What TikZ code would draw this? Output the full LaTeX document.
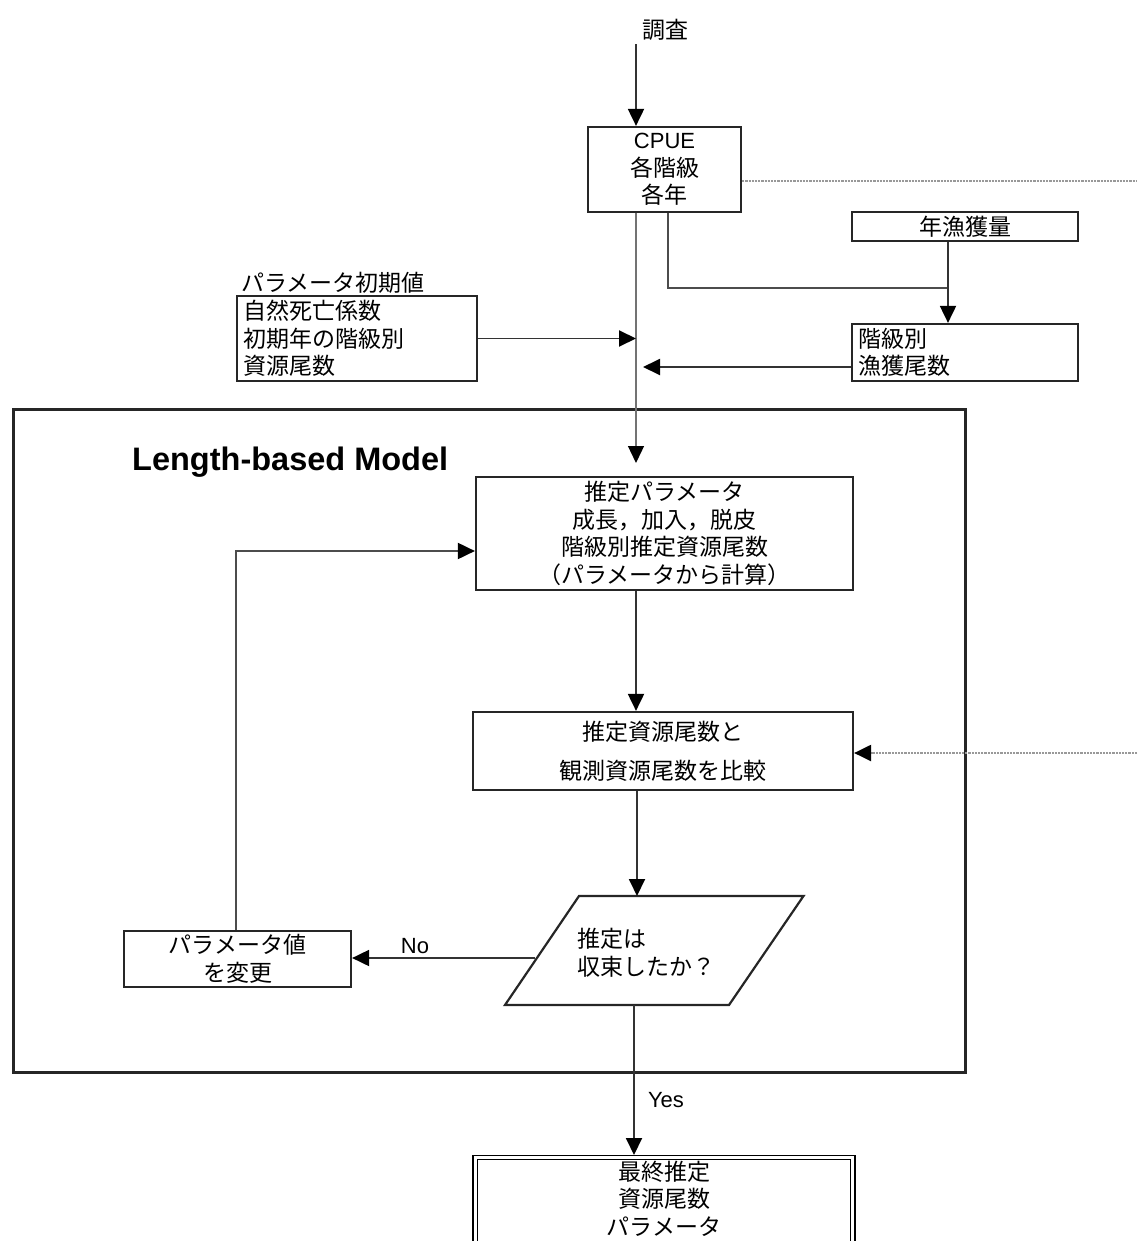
\documentclass[tikz,border=0pt]{standalone}
\usepackage{fontspec}
\setmainfont{Liberation Sans}
\newfontfamily\jp{Noto Sans CJK JP}
\usetikzlibrary{arrows.meta}
\newcommand\latf{\rmfamily\fontsize{22}{27.5}\selectfont}
\begin{document}
\begin{tikzpicture}[x=1pt,y=-1pt,
  jpf/.style={font=\jp\fontsize{23}{27.5}\selectfont},
  box/.style={draw=black!85, line width=2.2pt, inner sep=0pt, align=center, jpf},
  tip/.style={-{Triangle[length=17pt,width=16pt,color=black]}},
  arr/.style={line width=1.9pt, draw=black!80, tip},
  conn/.style={line width=1.9pt, draw=black!70},
  spine/.style={line width=1.3pt, draw=black!55, tip},
  dotl/.style={line width=2.2pt, draw=black!40, densely dotted},
  lbl/.style={font=\latf, inner sep=0pt}
]
\useasboundingbox (0,0) rectangle (1137,1241);
\clip (0,0) rectangle (1137,1241);

% frame of the model
\node[draw=black!85, line width=3pt, minimum width=952pt, minimum height=663pt, inner sep=0pt] (model) at (489,740.5) {};
\node[font=\bfseries\fontsize{32.5}{36}\selectfont, anchor=base west, inner sep=0pt] (mtitle) at (132,470) {Length-based Model};

% nodes
\node[jpf] (survey) at (665,30) {調査};
\node[box, minimum width=153pt, minimum height=85pt] (cpue) at (664.5,169.5) {{\latf CPUE}\\各階級\\各年};
\node[box, minimum width=226pt, minimum height=29pt] (catch) at (965,226.5) {年漁獲量};
\node[box, align=left, text width=214pt, inner xsep=6pt, minimum height=57pt] (cls) at (965,352.5) {階級別\\漁獲尾数};
\node[box, align=left, text width=228pt, inner xsep=6pt, minimum height=85pt] (init) at (357,338.5) {自然死亡係数\\初期年の階級別\\資源尾数};
\node[jpf, anchor=west, inner sep=0pt] (initlbl) at (241,283) {パラメータ初期値};

\node[box, minimum width=377pt, minimum height=113pt] (est) at (664.5,533.5) {推定パラメータ\\成長，加入，脱皮\\階級別推定資源尾数\\（パラメータから計算）};
\node[box, minimum width=380pt, minimum height=78pt, font=\jp\fontsize{23}{39}\selectfont] (cmp) at (663,751) {推定資源尾数と\\観測資源尾数を比較};

\draw[line width=2.2pt, draw=black!85] (579,896) -- (803.5,896) -- (729,1005) -- (505,1005) -- cycle;
\node[jpf, align=left, anchor=west, inner sep=0pt] (dec) at (577,952.5) {推定は\\収束したか？};
\coordinate (dtop) at (637,896);
\coordinate (dbot) at (634,1005);
\coordinate (dleft) at (535,958);

\node[box, minimum width=227pt, minimum height=56pt] (chg) at (237.5,959) {パラメータ値\\を変更};

\node[jpf, align=center, anchor=north, minimum width=377pt, inner ysep=3pt] (final) at (664,1157.5) {最終推定\\資源尾数\\パラメータ};
\draw[double, double distance=2.5pt, line width=1.7pt] (final.north west) rectangle ([yshift=-150pt]final.north east);

% connectors
\coordinate (sp) at (636,0);
\coordinate (estin) at (636,463);
\draw[arr] (survey.south -| sp) -- (cpue.north -| sp);
\draw[spine] (cpue.south -| sp) -- (estin);

\coordinate (cj) at (668,288);
\coordinate (jx) at (948,288);
\draw[conn] (cpue.south -| cj) -- (cj) -- (jx);
\draw[arr] (catch.south -| jx) -- (cls.north -| jx);

\draw[arr] (init.east) -- (init.east -| sp);
\coordinate (clsout) at (643,367);
\draw[arr] (cls.west |- clsout) -- (clsout);

\coordinate (r1) at (1137,181);
\draw[dotl] (cpue.east |- r1) -- (r1);
\coordinate (r2) at (1137,753);
\draw[dotl, tip] (r2) -- (cmp.east |- r2);

\draw[arr] (est.south -| sp) -- (cmp.north -| sp);
\draw[arr] (cmp.south -| dtop) -- (dtop);
\draw[arr] (dleft) -- (chg.east |- dleft);
\node[lbl] (no) at (415,946) {No};

\coordinate (lp) at (236,551);
\draw[conn, tip] (chg.north -| lp) -- (lp) -- (est.west |- lp);

\coordinate (fin) at (634,1155);
\draw[arr] (dbot) -- (fin);
\node[lbl] (yes) at (666,1100) {Yes};
\end{tikzpicture}
\end{document}
